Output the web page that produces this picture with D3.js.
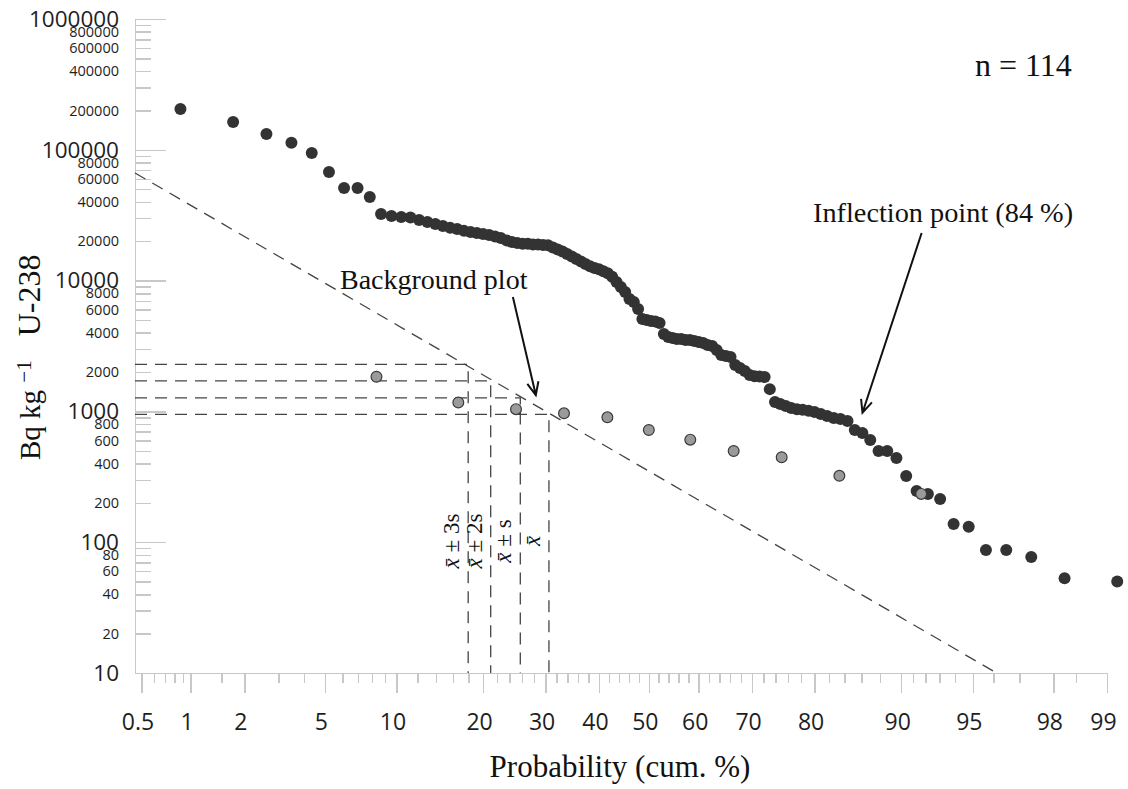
<!DOCTYPE html>
<meta charset="utf-8">
<style>
body { margin: 0; background: #fff; }
svg { display: block; }
.axis path, .axis line { stroke: #c8c8c8; stroke-width: 1.5; fill: none; shape-rendering: crispEdges; }
.axis text { font-family: "Open Sans", sans-serif; fill: #1e1e1e; }
.serif { font-family: "Liberation Serif", "Times New Roman", serif; fill: #111; }
.dash { stroke: #444; stroke-width: 1.3; stroke-dasharray: 12,8; fill: none; }
.arrow { stroke: #111; stroke-width: 2; fill: none; }
</style>
<body>
<script src="https://cdnjs.cloudflare.com/ajax/libs/d3/7.8.5/d3.min.js"></script>
<script>

// U-238 activity (Bq/kg), 114 samples in descending order
var u238 = [205000, 163000, 132000, 113000, 94500, 67700, 51000, 51000, 43600, 32300,
  31200, 30600, 30400, 29100, 28100, 27100, 26200, 25300, 24800, 24000,
  23500, 23100, 22700, 22300, 21700, 21200, 20300, 19700, 19400, 19100,
  19100, 18900, 18900, 18700, 18600, 17900, 17300, 16700, 16000, 15300,
  14600, 14000, 13400, 12900, 12500, 12200, 11800, 11400, 10700, 9760,
  8940, 8180, 7230, 6860, 6070, 5090, 5000, 4910, 4870, 4740,
  3910, 3710, 3640, 3580, 3580, 3520, 3520, 3450, 3390, 3330,
  3220, 3160, 2950, 2700, 2650, 2610, 2260, 2150, 2040, 1900,
  1860, 1850, 1830, 1480, 1180, 1140, 1100, 1060, 1040, 1030,
  1010, 990, 955, 922, 890, 875, 845, 721, 684, 604,
  498, 498, 440, 321, 246, 234, 214, 138, 131, 87,
  87, 77, 53, 50];

// background samples (grey points)
var background = [1840, 1170, 1040, 967, 901, 721, 608, 498, 446, 322, 234];

// axis ticks
var probMajor = [0.5, 1, 2, 5, 10, 20, 30, 40, 50, 60, 70, 80, 90, 95, 98, 99];
var probMinor = [0.6, 0.7, 0.8, 0.9, 1.5, 3, 4, 6, 7, 8, 9, 12, 14, 16, 18, 22, 24, 26, 28,
  32, 34, 36, 38, 42, 44, 46, 48, 52, 54, 56, 58, 62, 64, 66, 68, 72, 74, 76, 78,
  82, 84, 86, 88, 91, 92, 93, 94, 96, 97, 98.5];
var decades = [10, 100, 1000, 10000, 100000, 1000000];
var minorMult = [2, 3, 4, 5, 6, 7, 8, 9];
var labelledMult = [2, 4, 6, 8];

// background line and its statistics
var fitProbs = [0.454, 96.13];
var fitVals = [66500, 10];
var refVals = [2290, 1710, 1270, 950];
var refProbs = [17.95, 21.1, 25.7, 30.6];
var refSuffix = [" \u00b1 3s", " \u00b1 2s", " \u00b1 s", ""];

// inverse normal cdf (Acklam)
function probit(p) {
  var a = [-39.69683028665376, 220.9460984245205, -275.9285104469687, 138.3577518672690, -30.66479806614716, 2.506628277459239];
  var b = [-54.47609879822406, 161.5858368580409, -155.6989798598866, 66.80131188771972, -13.28068155288572];
  var c = [-0.007784894002430293, -0.3223964580411365, -2.400758277161838, -2.549732539343734, 4.374664141464968, 2.938163982698783];
  var d = [0.007784695709041462, 0.3224671290700398, 2.445134137142996, 3.754408661907416];
  var q, r;
  if (p < 0.02425) {
    q = Math.sqrt(-2 * Math.log(p));
    return (((((c[0]*q+c[1])*q+c[2])*q+c[3])*q+c[4])*q+c[5]) / ((((d[0]*q+d[1])*q+d[2])*q+d[3])*q+1);
  }
  if (p > 1 - 0.02425) {
    q = Math.sqrt(-2 * Math.log(1 - p));
    return -(((((c[0]*q+c[1])*q+c[2])*q+c[3])*q+c[4])*q+c[5]) / ((((d[0]*q+d[1])*q+d[2])*q+d[3])*q+1);
  }
  q = p - 0.5; r = q * q;
  return (((((a[0]*r+a[1])*r+a[2])*r+a[3])*r+a[4])*r+a[5])*q / (((((b[0]*r+b[1])*r+b[2])*r+b[3])*r+b[4])*r+1);
}

var width = 1128, height = 789;
var plotL = 135, plotR = 1107, plotT = 19, plotB = 673;

var svg = d3.select("body").append("svg")
  .attr("width", width)
  .attr("height", height);

// probability scale: linear in normal quantile
var xz = d3.scaleLinear().domain([probit(0.00454), probit(0.99)]).range([plotL, plotR]);
function xp(p) { return xz(probit(p / 100)); }
var y = d3.scaleLog().domain([10, 1000000]).range([plotB, plotT]);

// y axis
var yMinor = [];
decades.slice(0, -1).forEach(function(d) {
  minorMult.forEach(function(m) { yMinor.push(d * m); });
});

svg.append("g")
  .attr("class", "axis")
  .attr("transform", "translate(" + plotL + ",0)")
  .call(d3.axisLeft(y).tickValues(decades).tickSizeInner(-31).tickSizeOuter(0).tickPadding(16)
    .tickFormat(d3.format("d")))
  .selectAll("text").style("font-size", "22.5px");

var gyMinor = svg.append("g")
  .attr("class", "axis")
  .attr("transform", "translate(" + plotL + ",0)")
  .call(d3.axisLeft(y).tickValues(yMinor).tickSizeInner(-16).tickSizeOuter(0).tickPadding(16)
    .tickFormat(function(d) {
      var m = Math.round(d / Math.pow(10, Math.floor(Math.log10(d) + 1e-9)));
      return labelledMult.indexOf(m) >= 0 ? d3.format("d")(d) : "";
    }));
gyMinor.select(".domain").remove();
gyMinor.selectAll("text").style("font-size", "14.5px");

// x axis
svg.append("g")
  .attr("class", "axis")
  .attr("transform", "translate(0," + plotB + ")")
  .call(d3.axisBottom(xz).tickValues(probMajor.map(function(p) { return probit(p / 100); }))
    .tickSizeInner(20).tickSizeOuter(0).tickPadding(21)
    .tickFormat(function(d, i) { return String(probMajor[i]); }))
  .selectAll("text").style("font-size", "23px").attr("dx", -4);

var gxMinor = svg.append("g")
  .attr("class", "axis")
  .attr("transform", "translate(0," + plotB + ")")
  .call(d3.axisBottom(xz).tickValues(probMinor.map(function(p) { return probit(p / 100); }))
    .tickSizeInner(10).tickSizeOuter(0).tickFormat(""));
gxMinor.select(".domain").remove();

// dashed background line
svg.append("line")
  .attr("class", "dash")
  .attr("x1", xp(fitProbs[0])).attr("y1", y(fitVals[0]))
  .attr("x2", xp(fitProbs[1])).attr("y2", y(fitVals[1]));

// mean / sd guide lines
var guides = svg.append("g");
refVals.forEach(function(v, i) {
  var gx = xp(refProbs[i]), gy = y(v);
  guides.append("path")
    .attr("class", "dash")
    .attr("d", "M" + plotL + "," + gy + "H" + gx + "V" + plotB);
  var t = guides.append("text")
    .attr("class", "serif")
    .attr("transform", "translate(" + (gx - 9) + ",541) rotate(-90)")
    .attr("text-anchor", "middle")
    .style("font-size", "23px");
  t.append("tspan").style("font-style", "italic").text("x\u0304");
  t.append("tspan").text(refSuffix[i]);
});

// U-238 points
svg.append("g").selectAll("circle")
  .data(u238)
  .enter().append("circle")
  .attr("cx", function(d, i) { return xp(100 * (i + 1) / (u238.length + 1)); })
  .attr("cy", function(d) { return y(d); })
  .attr("r", 6)
  .attr("fill", "#333");

// background points
svg.append("g").selectAll("circle")
  .data(background)
  .enter().append("circle")
  .attr("cx", function(d, i) { return xp(100 * (i + 1) / (background.length + 1)); })
  .attr("cy", function(d) { return y(d); })
  .attr("r", 5.4)
  .attr("fill", "#9a9a9a")
  .attr("stroke", "#3a3a3a")
  .attr("stroke-width", 1.2);

// annotations
function arrow(p0, v0, p1, v1) {
  var x0 = xp(p0), y0 = y(v0), x1 = xp(p1), y1 = y(v1);
  var a = Math.atan2(y1 - y0, x1 - x0), L = 14, s = 0.42;
  svg.append("path")
    .attr("class", "arrow")
    .attr("d", "M" + x0 + "," + y0 + "L" + x1 + "," + y1 +
      "M" + (x1 - L * Math.cos(a - s)) + "," + (y1 - L * Math.sin(a - s)) +
      "L" + x1 + "," + y1 +
      "L" + (x1 - L * Math.cos(a + s)) + "," + (y1 - L * Math.sin(a + s)));
}
arrow(24.5, 7500, 28.3, 1334);
arrow(91.7, 23100, 86.1, 977);

svg.append("text").attr("class", "serif")
  .attr("x", 340).attr("y", 289)
  .style("font-size", "28px")
  .text("Background plot");

svg.append("text").attr("class", "serif")
  .attr("x", 813).attr("y", 222)
  .style("font-size", "28.3px")
  .text("Inflection point (84 %)");

svg.append("text").attr("class", "serif")
  .attr("x", 975).attr("y", 76)
  .style("font-size", "32px")
  .text("n = 114");

svg.append("text").attr("class", "serif")
  .attr("x", 620).attr("y", 777)
  .attr("text-anchor", "middle")
  .style("font-size", "31px")
  .text("Probability (cum. %)");

var yt = svg.append("text").attr("class", "serif")
  .attr("transform", "translate(40,460) rotate(-90)")
  .style("font-size", "29px");
yt.append("tspan").text("Bq kg ");
yt.append("tspan").attr("dy", -9).style("font-size", "21px").text("\u22121");
yt.append("tspan").attr("dy", 9).attr("dx", 24).style("font-size", "32px").text("U-238");

</script>
</body>
